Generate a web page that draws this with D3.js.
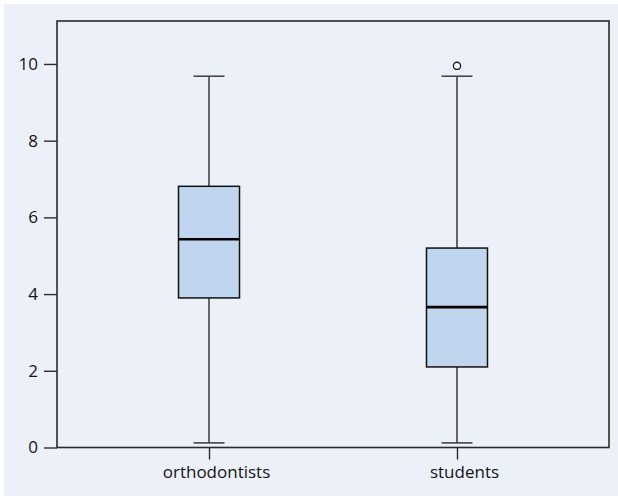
<!DOCTYPE html>
<html>
<head>
<meta charset="utf-8">
<script src="https://cdn.jsdelivr.net/npm/d3@7"></script>
<style>
  html, body { margin: 0; padding: 0; background: #ffffff; }
  svg { display: block; }
  .lbl { font-family: "Open Sans", "Noto Sans", sans-serif; font-size: 17px; fill: #141414; }
</style>
</head>
<body>
<svg id="chart" width="618" height="496"></svg>
<script>
// Groups and their five-number summaries
const groups = ["orthodontists", "students"];
const whiskerLow = [0.12, 0.12];
const q1 = [3.9, 2.1];
const medians = [5.43, 3.66];
const q3 = [6.81, 5.2];
const whiskerHigh = [9.68, 9.68];
const outliers = [[], [9.95]];
const yTicks = [0, 2, 4, 6, 8, 10];

const svg = d3.select("#chart");
const W = 618, H = 496;
const margin = { left: 57, top: 21, right: 9, bottom: 48.5 };
const plotW = W - margin.left - margin.right;
const plotH = H - margin.top - margin.bottom;

// Panel background
svg.append("rect")
  .attr("x", 4).attr("y", 4)
  .attr("width", W - 4).attr("height", H - 4)
  .attr("fill", "#ecf0f9");

const g = svg.append("g").attr("transform", `translate(${margin.left},${margin.top})`);

const y = d3.scaleLinear().domain([0, 11.12]).range([plotH, 0]);
const x = d3.scalePoint().domain(groups).range([0, plotW]).padding(0.613);

// Frame
g.append("rect")
  .attr("x", 0).attr("y", 0)
  .attr("width", plotW).attr("height", plotH)
  .attr("fill", "none")
  .attr("stroke", "#2b2b2b")
  .attr("stroke-width", 1.6);

// Y axis
const yAxis = g.append("g")
  .call(d3.axisLeft(y).tickValues(yTicks).tickSize(13).tickPadding(6).tickFormat(d3.format("d")));
yAxis.attr("font-size", 17).attr("font-family", "Open Sans, Noto Sans, sans-serif");
yAxis.select(".domain").remove();
yAxis.selectAll(".tick line").attr("stroke", "#2b2b2b").attr("stroke-width", 1.4);
yAxis.selectAll(".tick text").attr("class", "lbl").attr("fill", "#141414");

// X axis
const xAxis = g.append("g")
  .attr("transform", `translate(0,${plotH})`)
  .call(d3.axisBottom(x).tickSize(12).tickPadding(6));
xAxis.attr("font-size", 17).attr("font-family", "Open Sans, Noto Sans, sans-serif");
xAxis.select(".domain").remove();
xAxis.selectAll(".tick line").attr("stroke", "#2b2b2b").attr("stroke-width", 1.4);
xAxis.selectAll(".tick text").attr("class", "lbl").attr("fill", "#141414").attr("dx", 7);

const boxW = 61;
const capW = 31;

groups.forEach((grp, i) => {
  const cx = x(grp);
  const bg = g.append("g");

  // Whiskers
  bg.append("line")
    .attr("x1", cx).attr("x2", cx)
    .attr("y1", y(whiskerHigh[i])).attr("y2", y(q3[i]))
    .attr("stroke", "#1a1a1a").attr("stroke-width", 1.3);
  bg.append("line")
    .attr("x1", cx).attr("x2", cx)
    .attr("y1", y(q1[i])).attr("y2", y(whiskerLow[i]))
    .attr("stroke", "#1a1a1a").attr("stroke-width", 1.3);

  // Caps
  [whiskerHigh[i], whiskerLow[i]].forEach(v => {
    bg.append("line")
      .attr("x1", cx - capW / 2).attr("x2", cx + capW / 2)
      .attr("y1", y(v)).attr("y2", y(v))
      .attr("stroke", "#444").attr("stroke-width", 1.6);
  });

  // Box
  bg.append("rect")
    .attr("x", cx - boxW / 2)
    .attr("y", y(q3[i]))
    .attr("width", boxW)
    .attr("height", y(q1[i]) - y(q3[i]))
    .attr("fill", "#c0d6ee")
    .attr("stroke", "#111")
    .attr("stroke-width", 1.5);

  // Median
  bg.append("line")
    .attr("x1", cx - boxW / 2).attr("x2", cx + boxW / 2)
    .attr("y1", y(medians[i])).attr("y2", y(medians[i]))
    .attr("stroke", "#000").attr("stroke-width", 2.6);

  // Outliers
  outliers[i].forEach(v => {
    bg.append("circle")
      .attr("cx", cx).attr("cy", y(v)).attr("r", 3.6)
      .attr("fill", "#fff").attr("stroke", "#1a1a1a").attr("stroke-width", 1.3);
  });
});
</script>
</body>
</html>
